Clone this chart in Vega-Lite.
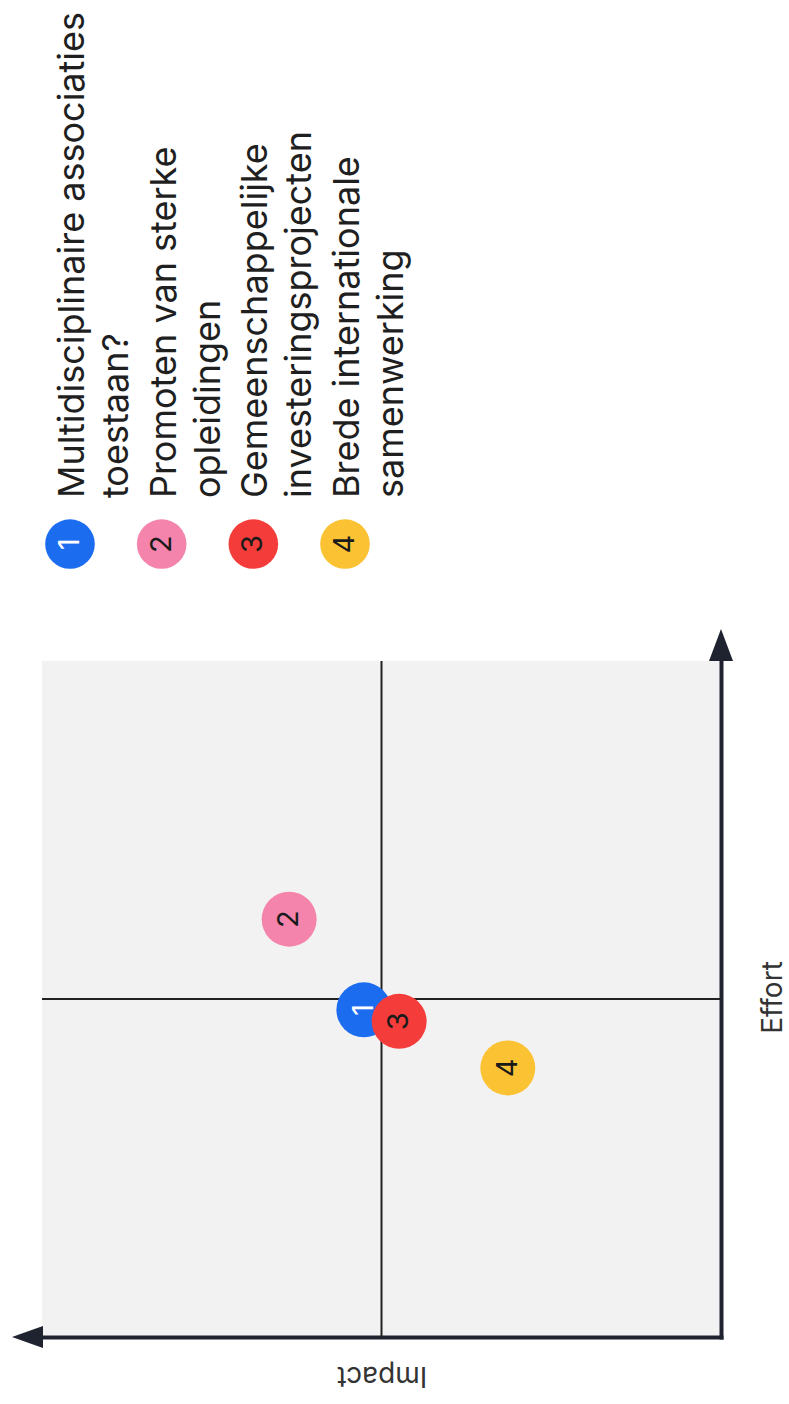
{
  "$schema": "https://vega.github.io/schema/vega-lite/v6.json",
  "width": 679,
  "height": 676,
  "autosize": {"type": "none"},
  "padding": {"left": 42, "top": 661, "right": 68, "bottom": 67},
  "background": "white",
  "view": {"fill": "#f2f2f2", "stroke": null},
  "config": {
    "font": "Inter",
    "axis": {"ticks": false, "labels": false, "grid": false, "domainColor": "#1f2330", "domainWidth": 4, "domainCap": "square"}
  },
  "datasets": {
    "items": [
      {"id": 1, "label": "Multidisciplinaire associaties\ntoestaan?", "impact": 5.26, "effort": 4.84},
      {"id": 2, "label": "Promoten van sterke\nopleidingen", "impact": 6.36, "effort": 6.18},
      {"id": 3, "label": "Gemeenschappelijke\ninvesteringsprojecten", "impact": 4.74, "effort": 4.67},
      {"id": 4, "label": "Brede internationale\nsamenwerking", "impact": 3.14, "effort": 3.98}
    ]
  },
  "data": {"name": "items"},
  "resolve": {"scale": {"x": "independent", "y": "independent"}},
  "layer": [
    {
      "layer": [
        {
          "data": {"values": [{}]},
          "mark": {"type": "rule", "color": "#222222", "strokeWidth": 2},
          "encoding": {"x": {"datum": 5, "type": "quantitative", "scale": {"domain": [0, 10], "reverse": true, "nice": false, "zero": false}}}
        },
        {
          "data": {"values": [{}]},
          "mark": {"type": "rule", "color": "#222222", "strokeWidth": 2},
          "encoding": {"y": {"datum": 5, "type": "quantitative", "scale": {"domain": [0, 10], "nice": false, "zero": false}}}
        },
        {
          "data": {"values": [{}]},
          "mark": {"type": "point", "shape": "M0,-1L0.75,1L-0.75,1Z", "size": 1024, "filled": true, "color": "#1f2330", "opacity": 1},
          "encoding": {
            "x": {"datum": 0, "type": "quantitative"},
            "y": {"datum": 10.237, "type": "quantitative"}
          }
        },
        {
          "data": {"values": [{}]},
          "mark": {"type": "point", "shape": "M-1,0L1,-0.71L1,0.71Z", "size": 961, "filled": true, "color": "#1f2330", "opacity": 1},
          "encoding": {
            "x": {"datum": 10.214, "type": "quantitative"},
            "y": {"datum": 0, "type": "quantitative"}
          }
        },
        {
          "transform": [{"filter": "datum.id === 1"}],
          "mark": {"type": "circle", "size": 3019, "opacity": 1},
          "encoding": {
            "x": {"field": "impact", "type": "quantitative", "scale": {"domain": [0, 10], "reverse": true, "nice": false, "zero": false},
              "axis": {"orient": "bottom", "title": "Impact", "titleAngle": 180, "titleX": 339.5, "titleY": 37, "titleAlign": "center", "titleBaseline": "middle", "titleFont": "Inter", "titleFontSize": 28, "titleFontWeight": "normal", "titleColor": "#333333"}},
            "y": {"field": "effort", "type": "quantitative", "scale": {"domain": [0, 10], "nice": false, "zero": false},
              "axis": {"orient": "right", "title": "Effort", "titleAngle": 270, "titleX": 52, "titleY": 336, "titleAlign": "center", "titleBaseline": "middle", "titleFont": "Inter", "titleFontSize": 28, "titleFontWeight": "normal", "titleColor": "#333333"}},
            "color": {"field": "id", "type": "nominal", "scale": {"domain": [1, 2, 3, 4], "range": ["#1c6cf0", "#f484ab", "#f43d3b", "#fbc234"]}, "legend": null}
          }
        },
        {
          "transform": [{"filter": "datum.id === 1"}],
          "mark": {"type": "text", "angle": 270, "align": "center", "baseline": "middle", "fontSize": 29, "font": "Inter"},
          "encoding": {
            "x": {"field": "impact", "type": "quantitative"},
            "y": {"field": "effort", "type": "quantitative"},
            "text": {"field": "id", "type": "nominal"},
            "color": {"value": "#ffffff"}
          }
        },
        {
          "transform": [{"filter": "datum.id !== 1"}],
          "mark": {"type": "circle", "size": 3019, "opacity": 1},
          "encoding": {
            "x": {"field": "impact", "type": "quantitative"},
            "y": {"field": "effort", "type": "quantitative"},
            "color": {"field": "id", "type": "nominal", "legend": null}
          }
        },
        {
          "transform": [{"filter": "datum.id !== 1"}],
          "mark": {"type": "text", "angle": 270, "align": "center", "baseline": "middle", "fontSize": 29, "font": "Inter"},
          "encoding": {
            "x": {"field": "impact", "type": "quantitative"},
            "y": {"field": "effort", "type": "quantitative"},
            "text": {"field": "id", "type": "nominal"},
            "color": {"value": "#1a1a1a"}
          }
        }
      ]
    },
    {
      "layer": [
        {
          "mark": {"type": "circle", "size": 2463, "opacity": 1},
          "encoding": {
            "x": {"field": "id", "type": "quantitative", "scale": {"domain": [0.6946, 8.1017], "nice": false, "zero": false}, "axis": null},
            "y": {"datum": 11.73, "type": "quantitative", "scale": {"domain": [0, 10], "nice": false, "zero": false}, "axis": null},
            "color": {"field": "id", "type": "nominal", "legend": null}
          }
        },
        {
          "mark": {"type": "text", "angle": 270, "align": "center", "baseline": "middle", "fontSize": 29, "font": "Inter"},
          "encoding": {
            "x": {"field": "id", "type": "quantitative"},
            "y": {"datum": 11.73, "type": "quantitative"},
            "text": {"field": "id", "type": "nominal"},
            "color": {"condition": {"test": "datum.id === 1", "value": "#ffffff"}, "value": "#1a1a1a"}
          }
        },
        {
          "mark": {"type": "text", "angle": 270, "align": "left", "baseline": "alphabetic", "dy": 14, "lineHeight": 44, "lineBreak": "\n", "fontSize": 36, "font": "Inter", "color": "#1f1f1f"},
          "encoding": {
            "x": {"field": "id", "type": "quantitative"},
            "y": {"datum": 12.41, "type": "quantitative"},
            "text": {"field": "label", "type": "nominal"}
          }
        }
      ]
    }
  ]
}
